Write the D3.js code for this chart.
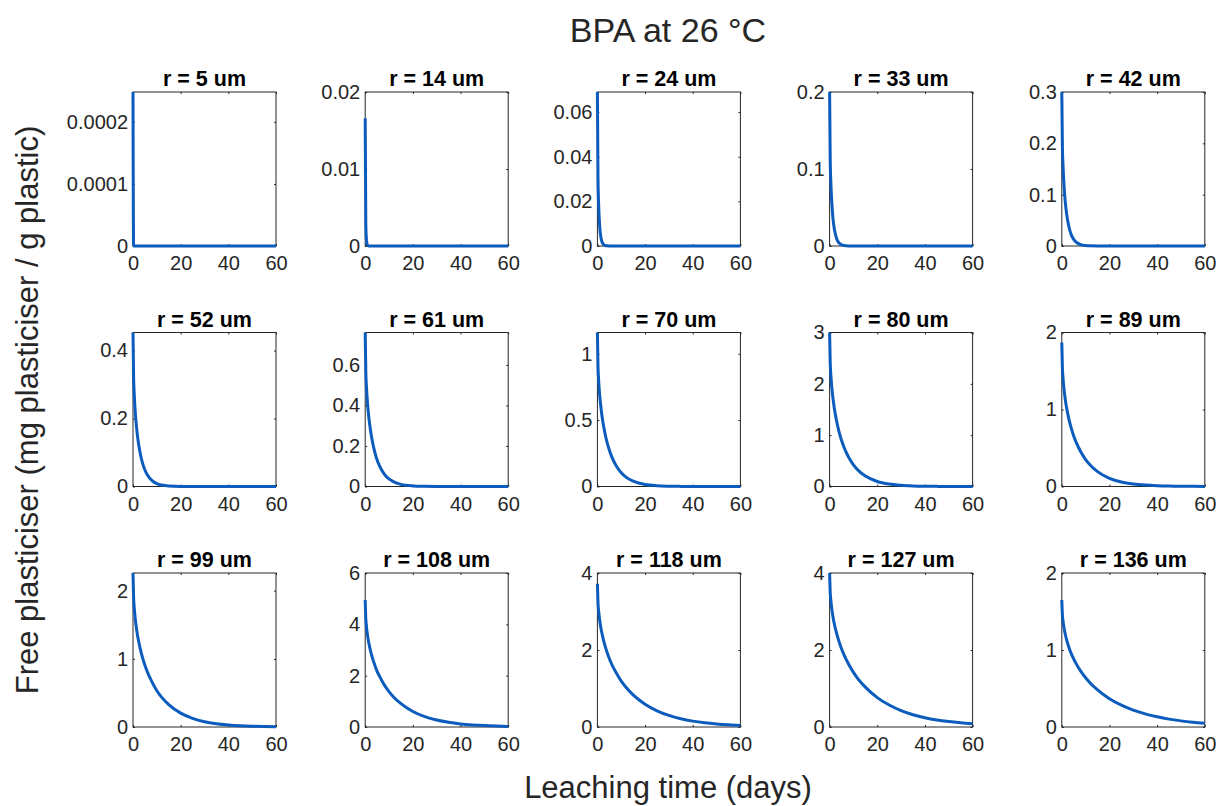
<!DOCTYPE html>
<html>
<head>
<meta charset="utf-8">
<script src="https://cdn.jsdelivr.net/npm/d3@7"></script>
<style>
  body { margin: 0; background: #fff; }
  svg { display: block; font-family: "Liberation Sans", Arial, sans-serif; }
</style>
</head>
<body>
<div id="chart"></div>
<script>
// Leaching time grid (days)
const times = [0, 0.25, 0.5, 1, 1.5, 2, 3, 4, 5, 6, 8, 10, 12, 15, 20, 25, 30, 35, 40, 45, 50, 55, 60];

// particle radius of each panel (um)
const radii = [5, 14, 24, 33, 42, 52, 61, 70, 80, 89, 99, 108, 118, 127, 136];

// y axis upper limit and ticks of each panel
const yMax = [0.000248, 0.02, 0.069, 0.2, 0.3, 0.453, 0.76, 1.16, 3, 2, 2.26, 6, 4, 4, 2];
const yTicks = [
  [0, 0.0001, 0.0002], [0, 0.01, 0.02], [0, 0.02, 0.04, 0.06], [0, 0.1, 0.2], [0, 0.1, 0.2, 0.3],
  [0, 0.2, 0.4], [0, 0.2, 0.4, 0.6], [0, 0.5, 1], [0, 1, 2, 3], [0, 1, 2],
  [0, 1, 2], [0, 2, 4, 6], [0, 2, 4], [0, 2, 4], [0, 1, 2]
];
const xTicks = [0, 20, 40, 60];

// free plasticiser (mg plasticiser / g plastic) at each time, one row per panel
const freePlasticiser = [
  [0.000248, 0, 0, 0, 0, 0, 0, 0, 0, 0, 0, 0, 0, 0, 0, 0, 0, 0, 0, 0, 0, 0, 0],
  [0.0166, 0.00307, 0.00091, 0.00009, 0.00001, 0, 0, 0, 0, 0, 0, 0, 0, 0, 0, 0, 0, 0, 0, 0, 0, 0, 0],
  [0.069, 0.0302, 0.019, 0.00824, 0.00365, 0.00161, 0.00032, 0.00006, 0.00001, 0, 0, 0, 0, 0, 0, 0, 0, 0, 0, 0, 0, 0, 0],
  [0.2, 0.113, 0.0848, 0.0524, 0.0334, 0.0218, 0.0092, 0.0039, 0.00164, 0.0007, 0.00012, 0.00002, 0, 0, 0, 0, 0, 0, 0, 0, 0, 0, 0],
  [0.3, 0.194, 0.158, 0.113, 0.084, 0.0636, 0.037, 0.0217, 0.0128, 0.0075, 0.0026, 0.0009, 0.0003, 0.00006, 0, 0, 0, 0, 0, 0, 0, 0, 0],
  [0.453, 0.322, 0.274, 0.214, 0.173, 0.142, 0.0988, 0.0689, 0.0487, 0.0344, 0.0173, 0.0086, 0.0043, 0.0015, 0.0003, 0.00005, 0, 0, 0, 0, 0, 0, 0],
  [0.76, 0.569, 0.498, 0.407, 0.344, 0.296, 0.223, 0.171, 0.131, 0.102, 0.0616, 0.0372, 0.0225, 0.0105, 0.003, 0.00085, 0.00024, 0.00007, 0.00002, 0, 0, 0, 0],
  [1.16, 0.904, 0.806, 0.68, 0.593, 0.522, 0.416, 0.336, 0.275, 0.225, 0.1525, 0.104, 0.071, 0.0399, 0.0154, 0.0059, 0.0023, 0.0009, 0.00034, 0.00013, 0.00005, 0.00002, 0.00001],
  [3.0, 2.42, 2.19, 1.89, 1.69, 1.52, 1.26, 1.06, 0.9, 0.77, 0.569, 0.4215, 0.3145, 0.2027, 0.0974, 0.0468, 0.0225, 0.0108, 0.0052, 0.0025, 0.0012, 0.0006, 0.0003],
  [1.87, 1.541, 1.414, 1.244, 1.122, 1.025, 0.871, 0.754, 0.656, 0.576, 0.447, 0.35, 0.276, 0.193, 0.1066, 0.0587, 0.0327, 0.0181, 0.01, 0.0055, 0.0031, 0.0017, 0.0009],
  [2.26, 1.903, 1.76, 1.571, 1.435, 1.324, 1.155, 1.017, 0.906, 0.811, 0.658, 0.533, 0.438, 0.328, 0.203, 0.126, 0.0778, 0.0483, 0.0299, 0.0185, 0.0115, 0.0071, 0.0044],
  [4.95, 4.23, 3.94, 3.56, 3.28, 3.06, 2.7, 2.42, 2.17, 1.98, 1.64, 1.38, 1.16, 0.908, 0.603, 0.404, 0.27, 0.181, 0.121, 0.081, 0.054, 0.036, 0.024],
  [3.72, 3.22, 3.02, 2.76, 2.56, 2.41, 2.15, 1.95, 1.78, 1.63, 1.395, 1.194, 1.034, 0.833, 0.591, 0.42, 0.3, 0.214, 0.153, 0.109, 0.078, 0.056, 0.04],
  [4.0, 3.5, 3.3, 3.03, 2.83, 2.67, 2.42, 2.21, 2.03, 1.88, 1.63, 1.42, 1.245, 1.036, 0.764, 0.57, 0.425, 0.318, 0.238, 0.18, 0.14, 0.11, 0.086],
  [1.65, 1.455, 1.38, 1.276, 1.198, 1.134, 1.033, 0.95, 0.883, 0.823, 0.723, 0.64, 0.569, 0.482, 0.368, 0.284, 0.219, 0.17, 0.132, 0.102, 0.0795, 0.0616, 0.0478]
];

const width = 1216;
const height = 806;
const textColor = "#262626";
const lineColor = "#0b5cbd";

// panel grid
const cols = 5;
const panelLeft = 133, panelStepX = 232.2, panelW = 143;
const panelTop = 92, panelStepY = 240.5, panelH = 154;

const svg = d3.select("#chart")
  .append("svg")
  .attr("width", width)
  .attr("height", height);

radii.forEach((r, i) => {
  const col = i % cols;
  const row = Math.floor(i / cols);
  const x0 = panelLeft + col * panelStepX;
  const y0 = panelTop + row * panelStepY;

  const x = d3.scaleLinear().domain([0, 60]).range([0, panelW]);
  const y = d3.scaleLinear().domain([0, yMax[i]]).range([panelH, 0]);

  const g = svg.append("g").attr("transform", `translate(${x0},${y0})`);

  // box
  g.append("rect")
    .attr("width", panelW)
    .attr("height", panelH)
    .attr("fill", "none")
    .attr("stroke", textColor)
    .attr("stroke-width", 1);

  // axes with inward ticks
  const fmt = d3.format("~g");
  const xAxis = g.append("g")
    .attr("transform", `translate(0,${panelH})`)
    .call(d3.axisBottom(x).tickValues(xTicks).tickSizeInner(-2).tickSizeOuter(0).tickPadding(10).tickFormat(fmt));
  const xTop = g.append("g")
    .call(d3.axisTop(x).tickValues(xTicks).tickSizeInner(-2).tickSizeOuter(0).tickFormat(""));
  const yAxis = g.append("g")
    .call(d3.axisLeft(y).tickValues(yTicks[i]).tickSizeInner(-2).tickSizeOuter(0).tickPadding(5).tickFormat(fmt));
  const yRight = g.append("g")
    .attr("transform", `translate(${panelW},0)`)
    .call(d3.axisRight(y).tickValues(yTicks[i]).tickSizeInner(-2).tickSizeOuter(0).tickFormat(""));

  [xAxis, xTop, yAxis, yRight].forEach(a => {
    a.select(".domain").remove();
    a.selectAll("line").attr("stroke", textColor);
    a.selectAll("text")
      .attr("fill", textColor)
      .style("font-size", "20px");
  });

  // title
  g.append("text")
    .attr("x", panelW / 2)
    .attr("y", -6)
    .attr("text-anchor", "middle")
    .attr("fill", "#000")
    .style("font-size", "21.5px")
    .style("font-weight", "bold")
    .text(`r = ${r} um`);

  // curve
  const line = d3.line()
    .x((d, j) => x(times[j]))
    .y(d => y(d))
    .curve(d3.curveMonotoneX);

  g.append("path")
    .datum(freePlasticiser[i])
    .attr("d", line)
    .attr("fill", "none")
    .attr("stroke", lineColor)
    .attr("stroke-width", 3);
});

// overall title and labels
svg.append("text")
  .attr("x", 668)
  .attr("y", 42)
  .attr("text-anchor", "middle")
  .attr("fill", textColor)
  .style("font-size", "34px")
  .text("BPA at 26 °C");

svg.append("text")
  .attr("x", 668)
  .attr("y", 798)
  .attr("text-anchor", "middle")
  .attr("fill", textColor)
  .style("font-size", "31px")
  .text("Leaching time (days)");

svg.append("text")
  .attr("transform", "translate(38,410) rotate(-90)")
  .attr("text-anchor", "middle")
  .attr("fill", textColor)
  .style("font-size", "31px")
  .text("Free plasticiser (mg plasticiser / g plastic)");
</script>
</body>
</html>
